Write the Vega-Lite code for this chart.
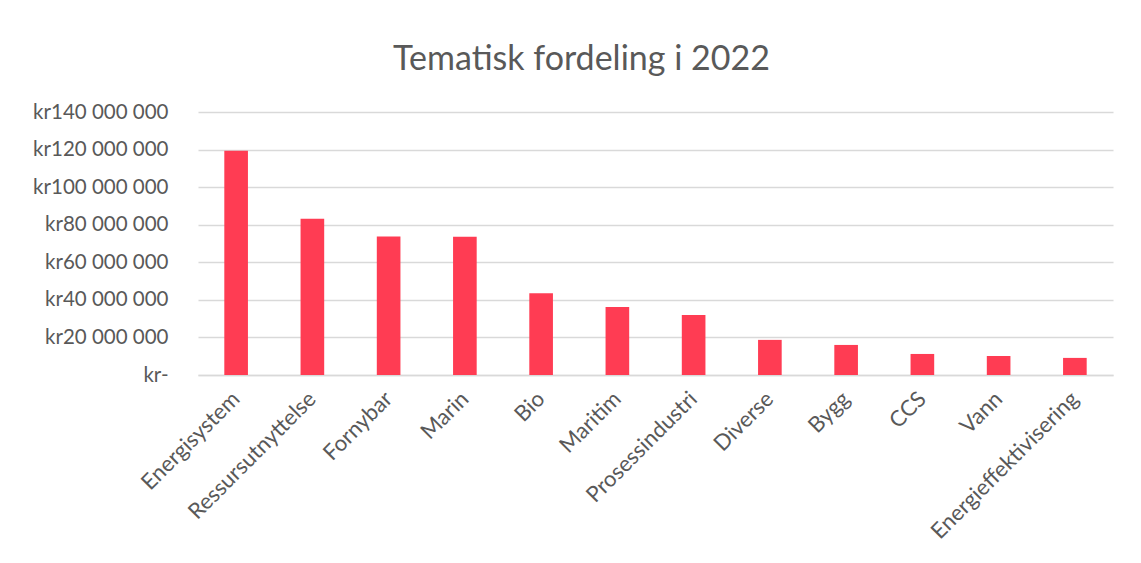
{
  "$schema": "https://vega.github.io/schema/vega-lite/v6.json",
  "width": 915,
  "height": 263,
  "autosize": {"type": "none"},
  "padding": {"left": 198, "top": 112, "right": 28, "bottom": 188},
  "background": "white",
  "title": {
    "text": "Tematisk fordeling i 2022",
    "font": "Lato",
    "fontSize": 34,
    "fontWeight": "normal",
    "color": "#595959",
    "anchor": "middle",
    "dx": -74,
    "offset": 25
  },
  "data": {
    "values": [
      {"tema": "Energisystem", "belop": 119400000},
      {"tema": "Ressursutnyttelse", "belop": 83200000},
      {"tema": "Fornybar", "belop": 73700000},
      {"tema": "Marin", "belop": 73600000},
      {"tema": "Bio", "belop": 43500000},
      {"tema": "Maritim", "belop": 36200000},
      {"tema": "Prosessindustri", "belop": 32000000},
      {"tema": "Diverse", "belop": 18700000},
      {"tema": "Bygg", "belop": 16000000},
      {"tema": "CCS", "belop": 11200000},
      {"tema": "Vann", "belop": 10100000},
      {"tema": "Energieffektivisering", "belop": 9100000}
    ]
  },
  "mark": {"type": "bar", "color": "#ff3c53"},
  "encoding": {
    "x": {
      "field": "tema",
      "type": "nominal",
      "sort": null,
      "scale": {"paddingInner": 0.69, "paddingOuter": 0.345},
      "axis": {
        "title": null,
        "labelAngle": -45,
        "labelAlign": "right",
        "labelBaseline": "middle",
        "labelFont": "Lato",
        "labelFontSize": 22,
        "labelColor": "#595959",
        "labelPadding": 20,
        "labelOverlap": false,
        "labelLimit": 300,
        "ticks": false,
        "domain": true,
        "domainColor": "#d9d9d9",
        "domainWidth": 1.5,
        "grid": false
      }
    },
    "y": {
      "field": "belop",
      "type": "quantitative",
      "scale": {"domain": [0, 140000000], "nice": false},
      "axis": {
        "title": null,
        "values": [0, 20000000, 40000000, 60000000, 80000000, 100000000, 120000000, 140000000],
        "labelExpr": "datum.value == 0 ? 'kr-' : 'kr' + replace(format(datum.value, ','), regexp(',', 'g'), ' ')",
        "labelFont": "Lato",
        "labelFontSize": 20.5,
        "labelColor": "#595959",
        "labelPadding": 30,
        "ticks": false,
        "domain": false,
        "grid": true,
        "gridColor": "#d9d9d9",
        "gridWidth": 1.5
      }
    }
  },
  "config": {"view": {"stroke": null}}
}
